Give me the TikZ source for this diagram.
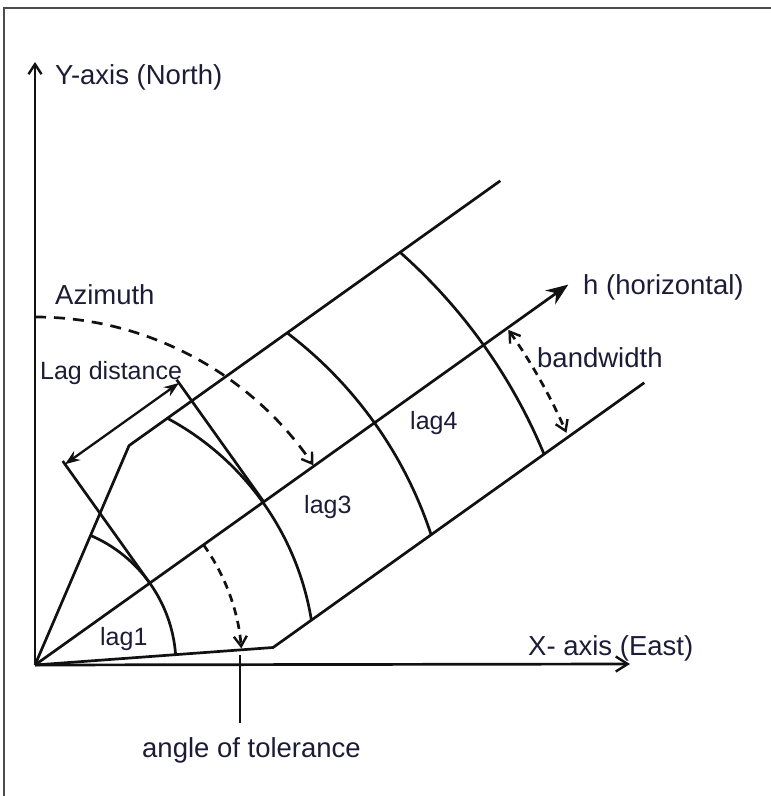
\documentclass[tikz,border=0pt]{standalone}
\usepackage{fontspec}
\setmainfont{Liberation Sans}
\usetikzlibrary{arrows.meta}
\definecolor{ink}{RGB}{17,17,17}
\definecolor{txt}{RGB}{28,28,55}
\begin{document}
\begin{tikzpicture}[x=1pt,y=1pt,
  line/.style={draw=ink,line width=2.7pt},
  dshA/.style={line,dash pattern=on 11pt off 8pt},
  dshB/.style={line,dash pattern=on 8pt off 6pt},
  lbl/.style={anchor=base west,inner sep=0pt,text=txt,font=\fontsize{27.5}{30}\selectfont},
  slbl/.style={lbl,font=\fontsize{25}{28}\selectfont},
  barb/.style={-{Straight Barb[length=10pt,width=13pt,line width=2.4pt]}}
]
\useasboundingbox (-35,-131) rectangle (736,665);
% frame (top and left edges)
\draw[gray!60!black,line width=1.4pt] (-31,-131) -- (-31,657) -- (736,657);

% axes
\coordinate (O) at (0,0);
\coordinate (Ytip) at (0,603);
\coordinate (Xtip) at (595,1);
\draw[line,barb] (O) -- (Ytip);
\draw[line,-{Straight Barb[length=12pt,width=15pt,line width=2.4pt]}] (O) -- (Xtip);

\begin{scope}[rotate=35.5]
  \coordinate (Htip) at (655,0);
  \coordinate (UV) at (204,124);
  \coordinate (UE) at (660,124);
  \coordinate (LV) at (204,-124);
  \coordinate (LE) at (660,-124);
  \coordinate (E1a) at (141,0);
  \coordinate (E1b) at (141,150);
  \coordinate (E2a) at (281,0);
  \coordinate (E2b) at (281,150);
  \coordinate (D1) at (141,146);
  \coordinate (D2) at (281,146);
\end{scope}

% h axis
\draw[line,-{Stealth[length=22pt,width=17pt]}] (O) -- (Htip);
% tolerance cone and band
\draw[line] (O) -- (UV) -- (UE);
\draw[line] (O) -- (LV) -- (LE);

% lag arcs
\draw[line] (66.8:141) arc[start angle=66.8,end angle=4.2,radius=141];
\draw[line] (61.8:280) arc[start angle=61.8,end angle=9.2,radius=280];
\draw[line] (52.8:417) arc[start angle=52.8,end angle=18.2,radius=417];
\draw[line] (48.5:551) arc[start angle=48.5,end angle=22.5,radius=551];

% lag distance dimension
\draw[line] (E1a) -- (E1b);
\draw[line] (E2a) -- (E2b);
\draw[line,line width=2.3pt,{Stealth[length=15pt,width=11pt]}-{Stealth[length=15pt,width=11pt]}] (D1) -- (D2);

% azimuth
\draw[dshA,barb] (0,348) arc[start angle=90,end angle=35,x radius=340,y radius=348];
% angle of tolerance
\draw[dshB,barb] (35.5:207) arc[start angle=35.5,end angle=4.6,radius=207];
\coordinate (T1) at (205,10);
\coordinate (T2) at (205,-58);
\draw[ink,line width=1.8pt] (T1) -- (T2);
% bandwidth
\draw[dshB,{Straight Barb[length=10pt,width=13pt,line width=2.4pt]}-{Straight Barb[length=10pt,width=13pt,line width=2.4pt]}] (35.3:580) arc[start angle=35.3,end angle=23.6,radius=580];

% labels
\node[lbl] (ylab) at (20,580) {Y-axis (North)};
\node[lbl] (azlab) at (20,360) {Azimuth};
\node[slbl] (lglab) at (5,285) {Lag distance};
\node[lbl] (hlab) at (548,370) {h (horizontal)};
\node[lbl] (bwlab) at (502,297) {bandwidth};
\node[slbl] (l4) at (375,235) {lag4};
\node[slbl] (l3) at (269,152) {lag3};
\node[slbl] (l1) at (65,20) {lag1};
\node[lbl] (xlab) at (493,10) {X- axis (East)};
\node[lbl] (tlab) at (107,-92) {angle of tolerance};
\end{tikzpicture}
\end{document}
